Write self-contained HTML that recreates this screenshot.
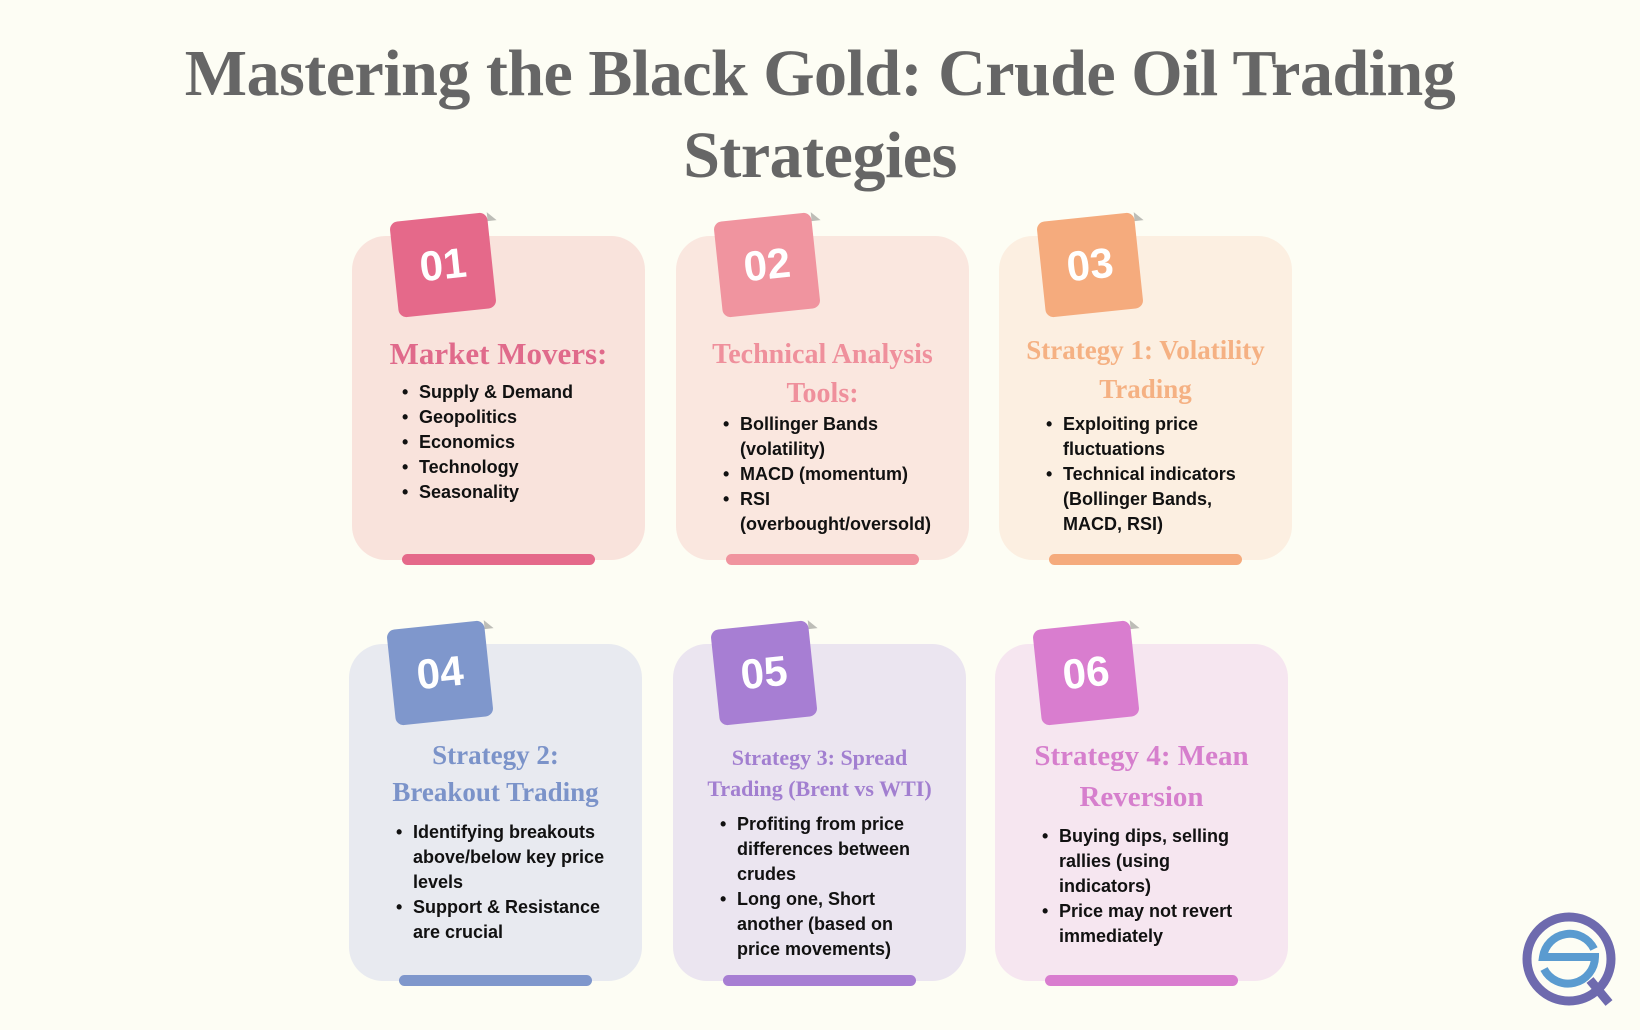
<!DOCTYPE html>
<html><head><meta charset="utf-8">
<style>
body{margin:0;width:1640px;height:1030px;background:#fdfdf4;position:relative;overflow:hidden;font-family:"Liberation Sans",sans-serif}
.title{position:absolute;left:0;width:1640px;text-align:center;font-family:"Liberation Serif",serif;font-weight:bold;color:#666;font-size:66px;line-height:82px;top:33px;letter-spacing:-0.5px}
.card{position:absolute;width:293px;height:324px;border-radius:34px}
.badge{position:absolute;left:42px;top:-19px;width:98px;height:96px;border-radius:8px;transform:rotate(-6deg);color:#fff;font-weight:bold;font-size:42px;line-height:96px;text-align:center}
.badge::after{content:"";position:absolute;right:-9px;top:0;border-left:9px solid rgba(0,0,0,.25);border-top:9px solid transparent}
.bar{position:absolute;left:50px;width:193px;height:11px;bottom:-5px;border-radius:6px}
.h{position:absolute;left:0;width:293px;text-align:center;font-family:"Liberation Serif",serif;font-weight:bold}
ul{position:absolute;margin:0;padding-left:0;list-style:none;font-weight:bold;font-size:18px;line-height:25px;color:#111}
li{position:relative;padding-left:17px}
li::before{content:"•";position:absolute;left:0}
</style></head><body>
<div class="title">Mastering the Black Gold: Crude Oil Trading<br>Strategies</div>

<div class="card" style="left:352px;top:236px;background:#f9e3dc">
<div class="badge" style="background:#e5698a">01</div>
<div class="h" style="top:98px;font-size:31px;line-height:40px;color:#e06a8b">Market Movers:</div>
<ul style="left:50px;top:144px"><li>Supply &amp; Demand</li><li>Geopolitics</li><li>Economics</li><li>Technology</li><li>Seasonality</li></ul>
<div class="bar" style="background:#e5698a"></div></div>

<div class="card" style="left:676px;top:236px;background:#fae7df">
<div class="badge" style="background:#f0949f">02</div>
<div class="h" style="top:99px;font-size:28px;line-height:39px;color:#ef909c">Technical Analysis<br>Tools:</div>
<ul style="left:47px;top:176px"><li>Bollinger Bands<br>(volatility)</li><li>MACD (momentum)</li><li>RSI<br>(overbought/oversold)</li></ul>
<div class="bar" style="background:#f0949f"></div></div>

<div class="card" style="left:999px;top:236px;background:#fcefe1">
<div class="badge" style="background:#f5ab7d">03</div>
<div class="h" style="top:95px;font-size:27px;line-height:39px;color:#f5b183">Strategy 1: Volatility<br>Trading</div>
<ul style="left:47px;top:176px"><li>Exploiting price<br>fluctuations</li><li>Technical indicators<br>(Bollinger Bands,<br>MACD, RSI)</li></ul>
<div class="bar" style="background:#f5ab7d"></div></div>

<div class="card" style="left:349px;top:644px;background:#e8eaf0;height:337px">
<div class="badge" style="background:#7f97cc">04</div>
<div class="h" style="top:93px;font-size:27px;line-height:37px;color:#7b93c9">Strategy 2:<br>Breakout Trading</div>
<ul style="left:47px;top:176px"><li>Identifying breakouts<br>above/below key price<br>levels</li><li>Support &amp; Resistance<br>are crucial</li></ul>
<div class="bar" style="background:#7f97cc"></div></div>

<div class="card" style="left:673px;top:644px;background:#ebe5f0;height:337px">
<div class="badge" style="background:#a77ed3">05</div>
<div class="h" style="top:98px;font-size:22px;line-height:31px;color:#a27fd0">Strategy 3: Spread<br>Trading (Brent vs WTI)</div>
<ul style="left:47px;top:168px"><li>Profiting from price<br>differences between<br>crudes</li><li>Long one, Short<br>another (based on<br>price movements)</li></ul>
<div class="bar" style="background:#a77ed3"></div></div>

<div class="card" style="left:995px;top:644px;background:#f6e6f0;height:337px">
<div class="badge" style="background:#d97dcf">06</div>
<div class="h" style="top:92px;font-size:29px;line-height:41px;color:#d67fcd">Strategy 4: Mean<br>Reversion</div>
<ul style="left:47px;top:180px"><li>Buying dips, selling<br>rallies (using<br>indicators)</li><li>Price may not revert<br>immediately</li></ul>
<div class="bar" style="background:#d97dcf"></div></div>

<svg style="position:absolute;left:1515px;top:905px" width="110" height="110" viewBox="0 0 110 110">
<line x1="75" y1="75" x2="94" y2="98" stroke="#6e6aae" stroke-width="9"/>
<circle cx="54" cy="54" r="42" fill="none" stroke="#6e6aae" stroke-width="9"/>
<path d="M79 44 A27 27 0 0 0 28 52 H80 A27 27 0 0 1 29 64" fill="none" stroke="#5a9bd0" stroke-width="8"/>
</svg>
</body></html>
